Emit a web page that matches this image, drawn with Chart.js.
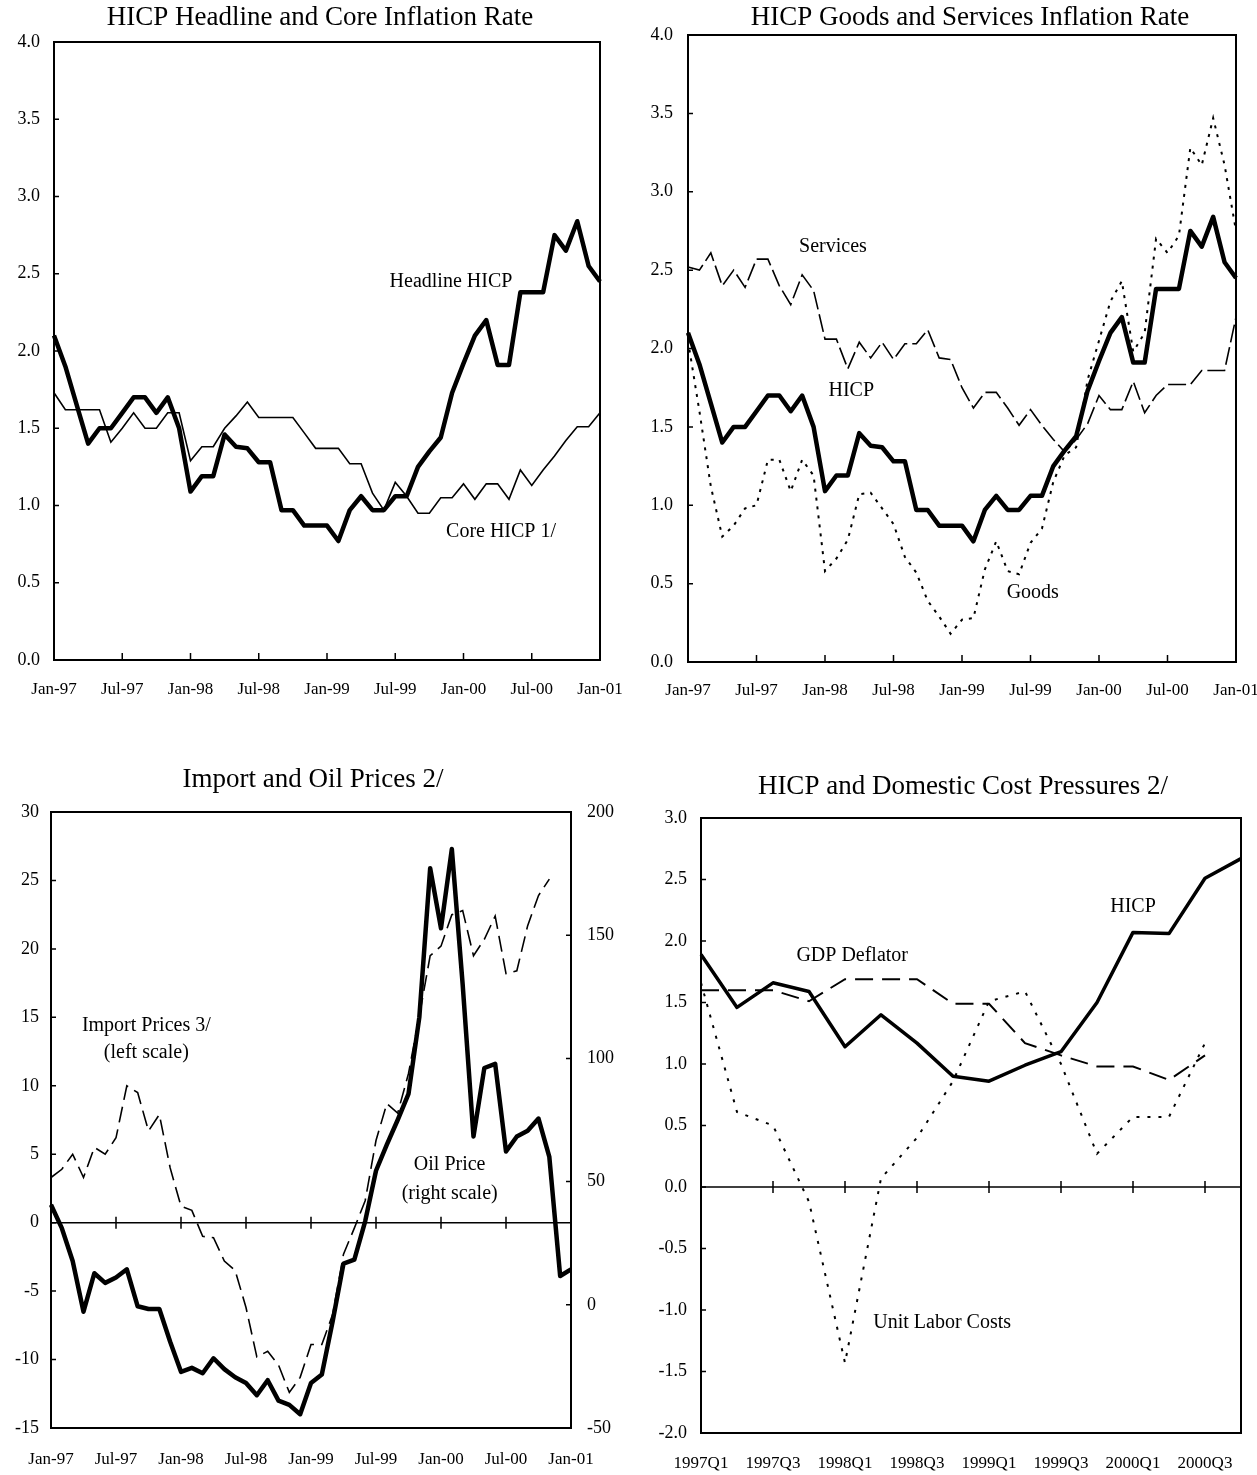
<!DOCTYPE html>
<html>
<head>
<meta charset="utf-8">
<script src="https://cdn.jsdelivr.net/npm/chart.js@4.4.1/dist/chart.umd.min.js"></script>
<style>
  body { margin: 0; background: #fff; width: 1257px; height: 1475px; overflow: hidden; position: relative; }
  .box { position: absolute; }
</style>
</head>
<body>
<div class="box" style="left:0;top:0;width:640px;height:705px"><canvas id="c1"></canvas></div>
<div class="box" style="left:632px;top:0;width:676px;height:705px"><canvas id="c2"></canvas></div>
<div class="box" style="left:0;top:755px;width:626px;height:720px"><canvas id="c3"></canvas></div>
<div class="box" style="left:632px;top:755px;width:662px;height:720px"><canvas id="c4"></canvas></div>
<script>
const serif = "'Liberation Serif', 'Times New Roman', serif";

// monthly categories Jan-97 .. Jan-01
const monthNames = ['Jan', 'Feb', 'Mar', 'Apr', 'May', 'Jun', 'Jul', 'Aug', 'Sep', 'Oct', 'Nov', 'Dec'];
const years = ['97', '98', '99', '00', '01'];
const months = [];
years.forEach(y => monthNames.forEach(m => months.push(m + '-' + y)));
months.length = 49;

const quarters = ['1997Q1', '1997Q2', '1997Q3', '1997Q4', '1998Q1', '1998Q2', '1998Q3', '1998Q4',
                  '1999Q1', '1999Q2', '1999Q3', '1999Q4', '2000Q1', '2000Q2', '2000Q3', '2000Q4'];

// Chart 1: headline and core HICP
const headlineHICP = [2.1, 1.9, 1.65, 1.4, 1.5, 1.5, 1.6, 1.7, 1.7, 1.6, 1.7, 1.5,
  1.09, 1.19, 1.19, 1.46, 1.38, 1.37, 1.28, 1.28, 0.97, 0.97, 0.87, 0.87,
  0.87, 0.77, 0.97, 1.06, 0.97, 0.97, 1.06, 1.06, 1.25, 1.35, 1.44, 1.73,
  1.92, 2.1, 2.2, 1.91, 1.91, 2.38, 2.38, 2.38, 2.75, 2.65, 2.84, 2.55, 2.45];
const coreHICP = [1.73, 1.62, 1.62, 1.62, 1.62, 1.41, 1.5, 1.6, 1.5, 1.5, 1.6, 1.6,
  1.29, 1.38, 1.38, 1.5, 1.58, 1.67, 1.57, 1.57, 1.57, 1.57, 1.47, 1.37,
  1.37, 1.37, 1.27, 1.27, 1.08, 0.97, 1.15, 1.06, 0.95, 0.95, 1.05, 1.05,
  1.14, 1.04, 1.14, 1.14, 1.04, 1.23, 1.13, 1.23, 1.32, 1.42, 1.51, 1.51, 1.6];

// Chart 2: goods and services
const services = [2.52, 2.5, 2.61, 2.4, 2.5, 2.39, 2.57, 2.57, 2.4, 2.28, 2.47, 2.37,
  2.06, 2.06, 1.87, 2.04, 1.94, 2.04, 1.93, 2.03, 2.03, 2.12, 1.94, 1.93,
  1.75, 1.62, 1.72, 1.72, 1.62, 1.51, 1.61, 1.51, 1.42, 1.34, 1.42, 1.52,
  1.7, 1.61, 1.61, 1.79, 1.59, 1.7, 1.77, 1.77, 1.77, 1.86, 1.86, 1.86, 2.2];
const goods = [2.05, 1.6, 1.12, 0.8, 0.87, 0.98, 1.0, 1.29, 1.29, 1.09, 1.29, 1.19,
  0.58, 0.66, 0.78, 1.07, 1.08, 0.98, 0.88, 0.67, 0.57, 0.39, 0.29, 0.18,
  0.27, 0.28, 0.59, 0.77, 0.58, 0.56, 0.76, 0.85, 1.15, 1.32, 1.37, 1.8,
  2.05, 2.3, 2.43, 1.98, 2.1, 2.7, 2.61, 2.72, 3.28, 3.17, 3.47, 3.17, 2.75];

// Chart 3: import prices (left scale) and oil price (right scale)
const importPrices = [3.3, 3.9, 5.0, 3.3, 5.5, 5.0, 6.2, 10.0, 9.5, 6.7, 7.9, 4.0,
  1.2, 0.9, -1.0, -1.1, -2.8, -3.5, -6.2, -9.8, -9.4, -10.4, -12.4, -11.3,
  -8.9, -8.9, -6.7, -2.3, -0.4, 1.6, 6.0, 8.7, 8.0, 10.9, 15.1, 19.5,
  20.2, 22.5, 22.8, 19.5, 20.7, 22.4, 18.2, 18.4, 21.7, 23.9, 25.1, null, null];
const oilPrice = [40.6, 31.1, 17.8, -2.8, 12.8, 8.9, 11.1, 14.4, -0.6, -1.7, -1.7, -15.0,
  -27.2, -25.6, -27.8, -21.7, -26.1, -29.4, -31.7, -36.7, -30.6, -38.9, -40.6, -44.4,
  -31.7, -28.3, -6.7, 16.7, 18.3, 33.9, 54.4, 65.0, 75.0, 85.6, 116.7, 177.2,
  152.8, 185.0, 130.0, 68.3, 96.1, 97.8, 62.2, 68.3, 70.6, 75.6, 60.0, 11.7, 14.4];

// Chart 4: quarterly HICP and domestic costs
const hicpQ = [1.89, 1.46, 1.66, 1.59, 1.14, 1.40, 1.17, 0.90, 0.86, 0.99, 1.10, 1.50, 2.07, 2.06, 2.51, 2.67];
const gdpDeflator = [1.60, 1.60, 1.60, 1.51, 1.69, 1.69, 1.69, 1.49, 1.49, 1.17, 1.07, 0.98, 0.98, 0.87, 1.07, null];
const unitLaborCosts = [1.66, 0.61, 0.50, -0.12, -1.43, 0.07, 0.40, 0.86, 1.51, 1.59, 1.0, 0.27, 0.57, 0.57, 1.17, null];

// Frame, inward ticks, zero line and text labels
const framePlugin = {
  id: 'frame',
  beforeDatasetsDraw(chart, args, opts) {
    const { ctx, chartArea: a, scales } = chart;
    ctx.save();
    ctx.strokeStyle = '#000';
    ctx.lineWidth = 1.5;
    const x = scales.x;
    if (opts.zeroLine) {
      const y0 = scales.y.getPixelForValue(0);
      ctx.beginPath();
      ctx.moveTo(a.left, y0);
      ctx.lineTo(a.right, y0);
      x.ticks.forEach((t, i) => {
        const px = x.getPixelForTick(i);
        ctx.moveTo(px, y0 - 6);
        ctx.lineTo(px, y0 + 6);
      });
      ctx.stroke();
    } else {
      ctx.beginPath();
      x.ticks.forEach((t, i) => {
        const px = x.getPixelForTick(i);
        ctx.moveTo(px, a.bottom);
        ctx.lineTo(px, a.bottom - 7);
      });
      ctx.stroke();
    }
    ['y', 'y2'].forEach(id => {
      const s = scales[id];
      if (!s) return;
      const dir = s.position === 'right' ? -1 : 1;
      const edge = s.position === 'right' ? a.right : a.left;
      ctx.beginPath();
      s.ticks.forEach((t, i) => {
        const py = s.getPixelForTick(i);
        ctx.moveTo(edge, py);
        ctx.lineTo(edge + dir * 5, py);
      });
      ctx.stroke();
    });
    ctx.restore();
  },
  afterDatasetsDraw(chart, args, opts) {
    const { ctx, chartArea: a, scales } = chart;
    ctx.save();
    ctx.strokeStyle = '#000';
    ctx.lineWidth = 2;
    ctx.strokeRect(a.left, a.top, a.right - a.left, a.bottom - a.top);
    ctx.fillStyle = '#000';
    ctx.font = '20px ' + serif;
    ctx.textAlign = 'center';
    ctx.textBaseline = 'middle';
    (opts.notes || []).forEach(n => {
      ctx.fillText(n.text, scales.x.getPixelForValue(n.x), scales.y.getPixelForValue(n.y));
    });
    ctx.restore();
  }
};

function xAxis(height, pad, every) {
  return {
    type: 'category',
    offset: false,
    grid: { display: false, drawTicks: false },
    border: { display: false },
    ticks: { autoSkip: false, maxRotation: 0, padding: pad, color: '#000', font: { family: serif, size: 17 } },
    afterBuildTicks: s => { s.ticks = s.ticks.filter(t => t.value % every === 0); },
    afterFit: s => { s.height = height; s.paddingLeft = 0; s.paddingRight = 0; }
  };
}

function yAxis(min, max, step, width, pad, pos, decimals) {
  return {
    type: 'linear',
    position: pos,
    min: min,
    max: max,
    grid: { display: false, drawTicks: false },
    border: { display: false },
    ticks: {
      stepSize: step,
      padding: pad,
      color: '#000',
      font: { family: serif, size: 18 },
      callback: v => v.toFixed(decimals)
    },
    afterFit: s => { s.width = width; s.paddingTop = 0; s.paddingBottom = 0; }
  };
}

// empty right-hand strip so the title can be centred independently of the plot
function spacer(width) {
  return {
    type: 'linear',
    position: 'right',
    grid: { display: false, drawTicks: false },
    border: { display: false },
    ticks: { display: false },
    afterFit: s => { s.width = width; s.paddingTop = 0; s.paddingBottom = 0; }
  };
}

function options(title, titlePad, pad, scales, frame) {
  return {
    responsive: true,
    maintainAspectRatio: false,
    animation: false,
    layout: { padding: pad, autoPadding: false },
    elements: { point: { radius: 0 }, line: { tension: 0, borderColor: '#000', fill: false } },
    plugins: {
      legend: { display: false },
      tooltip: { enabled: false },
      title: {
        display: true,
        text: title,
        color: '#000',
        font: { family: serif, size: 27, weight: 'normal', lineHeight: 1.2 },
        padding: titlePad
      },
      frame: frame
    },
    scales: scales
  };
}

Chart.register(framePlugin);

// Chart 1
new Chart(document.getElementById('c1'), {
  type: 'line',
  data: {
    labels: months,
    datasets: [
      { label: 'Headline HICP', data: headlineHICP, borderWidth: 4.5, borderJoinStyle: 'round' },
      { label: 'Core HICP 1/', data: coreHICP, borderWidth: 1.6 }
    ]
  },
  options: options('HICP Headline and Core Inflation Rate', { top: 2, bottom: 7.6 },
    { left: 0, right: 0, top: 0, bottom: 0 },
    { x: xAxis(45, 19, 6), y: yAxis(0, 4, 0.5, 54, 14, 'left', 1), yR: spacer(40) },
    { notes: [{ text: 'Headline HICP', x: 34.9, y: 2.45 }, { text: 'Core HICP 1/', x: 39.3, y: 0.83 }] })
});

// Chart 2
new Chart(document.getElementById('c2'), {
  type: 'line',
  data: {
    labels: months,
    datasets: [
      { label: 'HICP', data: headlineHICP, borderWidth: 4.5, borderJoinStyle: 'round' },
      { label: 'Services', data: services, borderWidth: 1.6, borderDash: [18, 5] },
      { label: 'Goods', data: goods, borderWidth: 2, borderDash: [3, 6] }
    ]
  },
  options: options('HICP Goods and Services Inflation Rate', { top: 2, bottom: 0.6 },
    { left: 0, right: 0, top: 0, bottom: 0 },
    { x: xAxis(43, 18, 6), y: yAxis(0, 4, 0.5, 56, 15, 'left', 1), yR: spacer(72) },
    { notes: [{ text: 'Services', x: 12.7, y: 2.65 }, { text: 'HICP', x: 14.3, y: 1.73 }, { text: 'Goods', x: 30.2, y: 0.44 }] })
});

// Chart 3
new Chart(document.getElementById('c3'), {
  type: 'line',
  data: {
    labels: months,
    datasets: [
      { label: 'Oil Price', data: oilPrice, yAxisID: 'y2', borderWidth: 4.5, borderJoinStyle: 'round' },
      { label: 'Import Prices 3/', data: importPrices, yAxisID: 'y', borderWidth: 1.6, borderDash: [16, 7] }
    ]
  },
  options: options('Import and Oil Prices 2/', { top: 8.8, bottom: 15.8 },
    { left: 0, right: 0, top: 0, bottom: 0 },
    {
      x: xAxis(47, 21, 6),
      y: yAxis(-15, 30, 5, 51, 12, 'left', 0),
      y2: yAxis(-50, 200, 50, 55, 16, 'right', 0)
    },
    {
      zeroLine: true,
      notes: [
        { text: 'Import Prices 3/', x: 8.8, y: 14.4 }, { text: '(left scale)', x: 8.8, y: 12.4 },
        { text: 'Oil Price', x: 36.8, y: 4.2 }, { text: '(right scale)', x: 36.8, y: 2.1 }
      ]
    })
});

// Chart 4
new Chart(document.getElementById('c4'), {
  type: 'line',
  data: {
    labels: quarters,
    datasets: [
      { label: 'HICP', data: hicpQ, borderWidth: 3.5, borderJoinStyle: 'round' },
      { label: 'GDP Deflator', data: gdpDeflator, borderWidth: 2, borderDash: [18, 9] },
      { label: 'Unit Labor Costs', data: unitLaborCosts, borderWidth: 2, borderDash: [3, 8] }
    ]
  },
  options: options('HICP and Domestic Cost Pressures 2/', { top: 15.8, bottom: 14.8 },
    { left: 0, right: 0, top: 0, bottom: 0 },
    { x: xAxis(42, 20, 2), y: yAxis(-2, 3, 0.5, 69, 14, 'left', 1), yR: spacer(53) },
    {
      zeroLine: true,
      notes: [
        { text: 'GDP Deflator', x: 4.2, y: 1.88 }, { text: 'HICP', x: 12.0, y: 2.28 },
        { text: 'Unit Labor Costs', x: 6.7, y: -1.10 }
      ]
    })
});
</script>
</body>
</html>
